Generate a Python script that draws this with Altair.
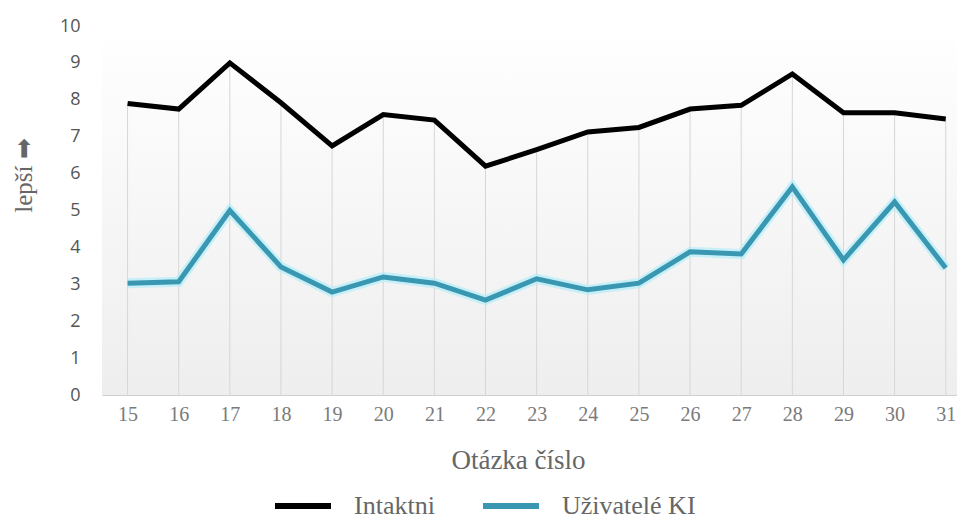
import altair as alt
import pandas as pd

# ---- data ----
questions = [15, 16, 17, 18, 19, 20, 21, 22, 23, 24, 25, 26, 27, 28, 29, 30, 31]
intaktni = [7.9, 7.75, 9.0, 7.92, 6.75, 7.6, 7.45, 6.2, 6.65, 7.13, 7.25, 7.75, 7.85, 8.7, 7.65, 7.65, 7.48]
uzivatele_ki = [3.03, 3.07, 5.0, 3.47, 2.79, 3.2, 3.03, 2.57, 3.15, 2.85, 3.03, 3.88, 3.82, 5.64, 3.66, 5.23, 3.44]
series_names = ["Intaktni", "Uživatelé KI"]
series_colors = ["#000000", "#3a97b1"]
y_ticks = [0, 1, 2, 3, 4, 5, 6, 7, 8, 9, 10]

wide = pd.DataFrame({"q": questions, "Intaktni": intaktni, "Uživatelé KI": uzivatele_ki})
long = wide.melt(id_vars="q", var_name="serie", value_name="v")

W, H = 855, 369

x_enc = alt.X(
    "q:Q",
    scale=alt.Scale(domain=[14.5, 31.22], nice=False, zero=False),
    axis=alt.Axis(
        values=questions, format="d", grid=False, ticks=False, tickSize=0,
        domain=True, domainColor="#d0d0d0", domainWidth=1,
        labelFont="Liberation Serif", labelFontSize=20, labelColor="#7a7a7a",
        labelPadding=9, labelFlush=False,
        title="Otázka číslo", titleFont="Liberation Serif", titleFontSize=27,
        titleFontWeight="normal", titleColor="#666666",
        titleX=416, titleY=65, titleBaseline="middle",
    ),
)
y_scale = alt.Scale(domain=[0, 10], nice=False)
y_axis = alt.Axis(
    values=y_ticks, grid=False, ticks=False, tickSize=0, domain=False,
    labelFont="Open Sans", labelFontSize=18, labelColor="#555555", labelPadding=22,
    title="lepší ➡", titleFont="Liberation Serif", titleFontSize=25,
    titleFontWeight="normal", titleColor="#666666",
    titleX=-79, titleY=149, titleBaseline="middle", titleAlign="center", titleAngle=-90,
)

bg = alt.Chart(pd.DataFrame({"a": [0]})).mark_rect(
    color=alt.Gradient(
        gradient="linear",
        stops=[alt.GradientStop(color="#ffffff", offset=0),
               alt.GradientStop(color="#eeeeee", offset=1)],
        x1=0, x2=0, y1=0, y2=1,
    )
).encode(x=alt.value(0), x2=alt.value(W), y=alt.value(0), y2=alt.value(H))

drops = alt.Chart(wide).mark_rule(color="#d6d6d6", strokeWidth=1).encode(
    x=x_enc,
    y=alt.Y("Intaktni:Q", scale=y_scale, axis=y_axis),
    y2=alt.datum(0),
)

glow = alt.Chart(wide).mark_line(color="#b8eefa", strokeWidth=10, opacity=0.75,
                                 strokeJoin="miter").encode(
    x=x_enc, y=alt.Y("Uživatelé KI:Q", scale=y_scale, axis=y_axis)
)

lines = alt.Chart(long).mark_line(strokeWidth=5, strokeJoin="miter").encode(
    x=x_enc,
    y=alt.Y("v:Q", scale=y_scale, axis=y_axis),
    color=alt.Color(
        "serie:N",
        scale=alt.Scale(domain=series_names, range=series_colors),
        legend=alt.Legend(
            title=None, orient="none", legendX=170, legendY=449,
            direction="horizontal", symbolType="stroke", symbolSize=3136,
            symbolStrokeWidth=6, labelFont="Liberation Serif", labelFontSize=26,
            labelColor="#666666", labelOffset=20, columnPadding=36,
        ),
    ),
)

chart = alt.layer(bg, drops, glow, lines).properties(
    width=W, height=H,
    autosize=alt.AutoSizeParams(type="none"),
    padding={"left": 94, "top": 18, "right": 0, "bottom": 127},
).configure_view(stroke=None).configure_legend(
    labelFont="Liberation Serif", labelFontSize=26, labelColor="#666666"
)

chart.save("out.html", embed_options={"renderer": "svg", "actions": False})
